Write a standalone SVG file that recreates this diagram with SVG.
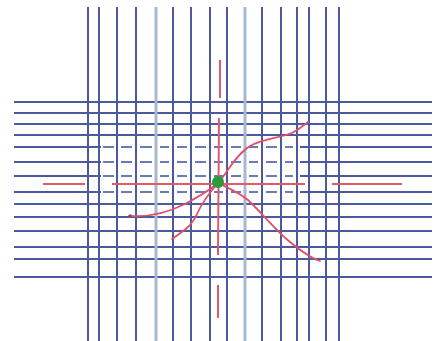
<svg xmlns="http://www.w3.org/2000/svg" width="441" height="341" viewBox="0 0 441 341">
<style>
.g{stroke:#4a5a9c;stroke-width:2;fill:none}
.gl{stroke:#a9b8d2;stroke-width:3;fill:none}
.gd{stroke:#6a7ab4;stroke-width:2;fill:none}
.ax{stroke:#e2596c;stroke-width:2;fill:none}
.cv{stroke:#e0506a;stroke-width:1.8;fill:none;stroke-linecap:round}
</style>
<rect width="441" height="341" fill="#ffffff"/>
<g id="grid">
<g id="horizontal-solid">
<line class="g" x1="14" y1="102" x2="432" y2="102"/>
<line class="g" x1="14" y1="113" x2="432" y2="113"/>
<line class="g" x1="14" y1="124" x2="432" y2="124"/>
<line class="g" x1="14" y1="135" x2="432" y2="135"/>
<line class="g" x1="14" y1="204" x2="432" y2="204"/>
<line class="g" x1="14" y1="217" x2="432" y2="217"/>
<line class="g" x1="14" y1="231" x2="432" y2="231"/>
<line class="g" x1="14" y1="247" x2="432" y2="247"/>
<line class="g" x1="14" y1="259" x2="432" y2="259"/>
<line class="g" x1="14" y1="277" x2="432" y2="277"/>
</g>
<g id="horizontal-broken">
<path class="g" d="M14,147H101M300,147H432M14,162H101M300,162H432M14,176H101M300,176H432M14,192H101M300,192H432"/>
<path class="gd" d="M103,147H114M121,147H132M140,147H152M160,147H169M177,147H187M195,147H206M214,147H223M231,147H241M249,147H258M266,147H277M285,147H293
M103,162H114M121,162H132M140,162H152M160,162H169M177,162H187M195,162H206M214,162H223M231,162H241M249,162H258M266,162H277M285,162H293
M103,176H114M121,176H132M140,176H152M160,176H169M177,176H187M195,176H206M214,176H223M231,176H241M249,176H258M266,176H277M285,176H293
M103,192H114M121,192H132M140,192H152M160,192H169M177,192H187M195,192H206M214,192H223M231,192H241M249,192H258M266,192H277M285,192H293"/>
</g>
<g id="vertical">
<line class="g" x1="88" y1="7" x2="88" y2="341"/>
<line class="g" x1="99" y1="7" x2="99" y2="341"/>
<line class="g" x1="117" y1="7" x2="117" y2="341"/>
<line class="g" x1="136" y1="7" x2="136" y2="341"/>
<line class="gl" x1="156" y1="7" x2="156" y2="341"/>
<line class="g" x1="173" y1="7" x2="173" y2="341"/>
<line class="g" x1="191" y1="7" x2="191" y2="341"/>
<line class="g" x1="210" y1="7" x2="210" y2="341"/>
<line class="g" x1="227" y1="7" x2="227" y2="341"/>
<line class="gl" x1="245" y1="7" x2="245" y2="341"/>
<line class="g" x1="262" y1="7" x2="262" y2="341"/>
<line class="g" x1="281" y1="7" x2="281" y2="341"/>
<line class="g" x1="297" y1="7" x2="297" y2="341"/>
<line class="g" x1="309" y1="7" x2="309" y2="341"/>
<line class="g" x1="326" y1="7" x2="326" y2="341"/>
<line class="g" x1="339" y1="7" x2="339" y2="341"/>
</g>
</g>
<g id="axes">
<line class="ax" x1="43" y1="184" x2="85" y2="184"/>
<line class="ax" x1="112" y1="184" x2="305" y2="184"/>
<line class="ax" x1="332" y1="184" x2="402" y2="184"/>
<line class="ax" x1="220" y1="60" x2="220" y2="98"/>
<line class="ax" x1="219" y1="118" x2="218" y2="255"/>
<line class="ax" x1="218" y1="285" x2="218" y2="318"/>
</g>
<g id="curves">
<path class="cv" d="M130,216 C145,217 165,214 185,204 C198,197 210,190 218,183 C226,175 235,155 250,146 C262,139 280,138 292,133 C300,129 304,125 308,122"/>
<path class="cv" d="M172,239 C182,232 192,226 197,214 C202,203 210,192 218,183 C228,188 238,192 248,200 C262,213 275,230 290,242 C300,250 310,258 320,261"/>
<circle cx="130" cy="216" r="1.8" fill="#a04060"/>
</g>
<g id="center">
<circle cx="218" cy="182" r="6" fill="#2f9a3c"/>
</g>
</svg>
